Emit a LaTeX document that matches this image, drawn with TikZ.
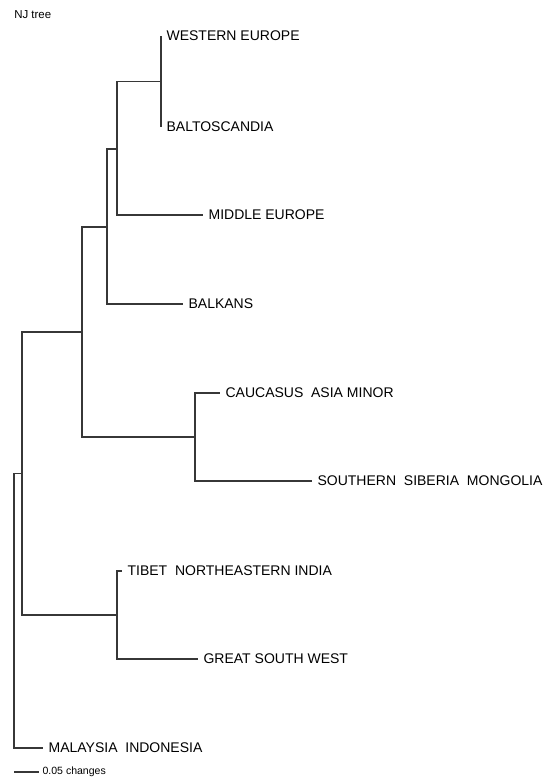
\documentclass[tikz,border=0pt]{standalone}
\usepackage{fontspec}
\setmainfont{Liberation Sans}
\definecolor{branch}{RGB}{55,55,55}

\tikzset{
  leaf/.style={anchor=west,inner sep=4pt,font=\fontsize{10.5}{12}\selectfont},
  edge/.style={draw=branch,line width=0.85pt}
}

\begin{document}
\begin{tikzpicture}[x=0.75pt,y=0.75pt,yscale=-1,xscale=1]
\useasboundingbox (0,0) rectangle (545,778);

% Title Node
\node [anchor=west,inner sep=0.75pt,font=\fontsize{8.6}{10}\selectfont] (title) at (13,15) {NJ tree};

%Inner nodes
\coordinate (root) at (14,473);
\coordinate (nA) at (22,473.5);
\coordinate (nB) at (82,332);
\coordinate (nC) at (107,227);
\coordinate (nD) at (117,149);
\coordinate (nE) at (161,81.5);
\coordinate (nCau) at (195,437);
\coordinate (nTib) at (117,615);

% Leaf Nodes
\node [leaf] (we) at (161,36) {WESTERN EUROPE};
\node [leaf] (balto) at (161,127) {BALTOSCANDIA};
\node [leaf] (mideu) at (203,215) {MIDDLE EUROPE};
\node [leaf] (balk) at (183,304) {BALKANS};
\node [leaf] (cauc) at (220,393) {CAUCASUS\ \ ASIA MINOR};
\node [leaf] (sib) at (312,481) {SOUTHERN\ \ SIBERIA\ \ MONGOLIA};
\node [leaf] (tibet) at (122,571) {TIBET\ \ NORTHEASTERN INDIA};
\node [leaf] (gsw) at (198,659) {GREAT SOUTH WEST};
\node [leaf] (malay) at (43,748) {MALAYSIA\ \ INDONESIA};

%Branches
\draw [edge] (root) |- (nA);
\draw [edge] (root) |- (malay.west);
\draw [edge] (nA) |- (nB);
\draw [edge] (nA) |- (nTib);
\draw [edge] (nB) |- (nC);
\draw [edge] (nB) |- (nCau);
\draw [edge] (nC) |- (nD);
\draw [edge] (nC) |- (balk.west);
\draw [edge] (nD) |- (nE);
\draw [edge] (nD) |- (mideu.west);
\draw [edge] (nE) |- (we.west);
\draw [edge] (nE) |- (balto.west);
\draw [edge] (nCau) |- (cauc.west);
\draw [edge] (nCau) |- (sib.west);
\draw [edge] (nTib) |- (tibet.west);
\draw [edge] (nTib) |- (gsw.west);

%Scale bar
\coordinate (bar0) at (14,772);
\coordinate (bar1) at (39,772);
\draw [edge] (bar0) -- (bar1);
% Text Node
\node [anchor=west,inner sep=2.5pt,font=\fontsize{7.9}{9}\selectfont] (barlabel) at (bar1) {0.05 changes};

\end{tikzpicture}
\end{document}
